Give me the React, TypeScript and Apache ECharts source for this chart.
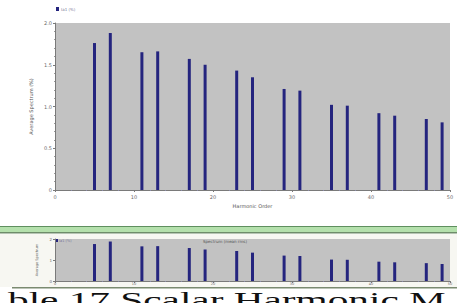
import React, { useEffect, useRef } from "react";
import * as echarts from "echarts";

const harmonicOrders = [5, 7, 11, 13, 17, 19, 23, 25, 29, 31, 35, 37, 41, 43, 47, 49];
const averageSpectrum = [1.76, 1.88, 1.65, 1.66, 1.57, 1.5, 1.43, 1.35, 1.21, 1.19, 1.02, 1.01, 0.92, 0.89, 0.85, 0.81];
const yTickLabels = ["0", "0.5", "1.0", "1.5", "2.0"];
const legendLabel = "Ia1 (%)";
const yAxisTitle = "Average Spectrum (%)";
const xAxisTitle = "Harmonic Order";
const miniTitle = "Spectrum (mean rms)";
const caption = "ble 17 Scalar Harmonic M";

export default function App() {
  const ref = useRef<HTMLDivElement>(null);
  useEffect(() => {
    if (!ref.current) return;
    const chart = echarts.init(ref.current, null, { renderer: "svg" });
    const pairs = harmonicOrders.map((h, i) => [h, averageSpectrum[i]]);
    const barColor = "#24247e";
    const axisTxt = { color: "#6a6a6a", fontSize: 5, fontFamily: "DejaVu Sans" };
    chart.setOption({
      animation: false,
      backgroundColor: "#ffffff",
      grid: [
        { left: 55, top: 23, width: 395, height: 167, show: true, backgroundColor: "#c2c2c2", borderWidth: 0 },
        { left: 55, top: 239, width: 395, height: 42, show: true, backgroundColor: "#c2c2c2", borderWidth: 0 },
      ],
      xAxis: [
        {
          gridIndex: 0, type: "value", min: 0, max: 50, interval: 10,
          axisLine: { lineStyle: { color: "#7a7a7a" } },
          axisTick: { show: true, length: 2, lineStyle: { color: "#7a7a7a" } },
          minorTick: { show: true, splitNumber: 5, length: 1, lineStyle: { color: "#8a8aaa" } },
          splitLine: { show: false },
          axisLabel: { ...axisTxt, margin: 4 },
          name: xAxisTitle, nameLocation: "middle", nameGap: 12,
          nameTextStyle: { ...axisTxt, color: "#555" },
        },
        {
          gridIndex: 1, type: "value", min: 0, max: 50, interval: 10,
          axisLine: { lineStyle: { color: "#7a7a7a" } },
          axisTick: { show: true, length: 2, lineStyle: { color: "#7a7a7a" } },
          minorTick: { show: true, splitNumber: 5, length: 1, lineStyle: { color: "#8a8aaa" } },
          splitLine: { show: false },
          axisLabel: { ...axisTxt, fontSize: 3.5, margin: 1 },
        },
      ],
      yAxis: [
        {
          gridIndex: 0, type: "value", min: 0, max: 2, interval: 0.5,
          axisLine: { show: true, lineStyle: { color: "#7a7a7a" } },
          axisTick: { show: true, length: 2, lineStyle: { color: "#7a7a7a" } },
          minorTick: { show: true, splitNumber: 5, length: 1, lineStyle: { color: "#9a9a9a" } },
          splitLine: { show: false },
          axisLabel: { ...axisTxt, margin: 3, formatter: (v: number) => yTickLabels[Math.round(v / 0.5)] ?? "" },
          name: yAxisTitle, nameLocation: "middle", nameGap: 14, nameRotate: 90,
          nameTextStyle: { ...axisTxt, color: "#555" },
        },
        {
          gridIndex: 1, type: "value", min: 0, max: 2, interval: 1,
          axisLine: { show: true, lineStyle: { color: "#7a7a7a" } },
          axisTick: { show: true, length: 2, lineStyle: { color: "#7a7a7a" } },
          splitLine: { show: false },
          axisLabel: { ...axisTxt, fontSize: 4, margin: 3 },
          name: "Average Spectrum", nameLocation: "middle", nameGap: 11, nameRotate: 90,
          nameTextStyle: { ...axisTxt, fontSize: 3.5, color: "#666" },
        },
      ],
      series: [
        { type: "bar", xAxisIndex: 0, yAxisIndex: 0, data: pairs, barWidth: 3, itemStyle: { color: barColor } },
        { type: "bar", xAxisIndex: 1, yAxisIndex: 1, data: pairs, barWidth: 3, itemStyle: { color: barColor } },
      ],
      graphic: [
        { type: "rect", z: -1, shape: { x: 0, y: 226, width: 457, height: 1 }, style: { fill: "#5f8f5f" } },
        { type: "rect", z: -1, shape: { x: 0, y: 227, width: 457, height: 5 }, style: { fill: "#b4e0ac" } },
        { type: "rect", z: -1, shape: { x: 0, y: 232, width: 457, height: 1.5 }, style: { fill: "#6e8c6a" } },
        { type: "rect", z: -2, shape: { x: 0, y: 234, width: 457, height: 53 }, style: { fill: "#f7f7f2" } },
        { type: "rect", z: -1, shape: { x: 12, y: 287, width: 445, height: 1.5 }, style: { fill: "#7a8a70" } },
        { type: "rect", shape: { x: 56, y: 7, width: 3, height: 4 }, style: { fill: barColor } },
        { type: "text", x: 61, y: 9, style: { text: legendLabel, fill: "#7a7a9a", fontSize: 4, fontFamily: "DejaVu Sans", verticalAlign: "middle" } },
        { type: "rect", z: 5, shape: { x: 56, y: 239, width: 2, height: 3 }, style: { fill: barColor } },
        { type: "text", z: 5, x: 59, y: 241, style: { text: legendLabel, fill: "#7a7a9a", fontSize: 3.5, fontFamily: "DejaVu Sans", verticalAlign: "middle" } },
        { type: "text", z: 5, x: 225, y: 241, style: { text: miniTitle, fill: "#555", fontSize: 4, fontFamily: "DejaVu Sans", align: "center", verticalAlign: "middle" } },
        { type: "text", x: 8, y: 288, scaleX: 1.72, scaleY: 1, style: { text: caption, fill: "#111", fontSize: 24, fontFamily: "Liberation Serif", verticalAlign: "top" } },
      ],
    });
    return () => chart.dispose();
  }, []);
  return <div ref={ref} style={{ position: "fixed", left: 0, top: 0, width: 457, height: 303 }} />;
}
